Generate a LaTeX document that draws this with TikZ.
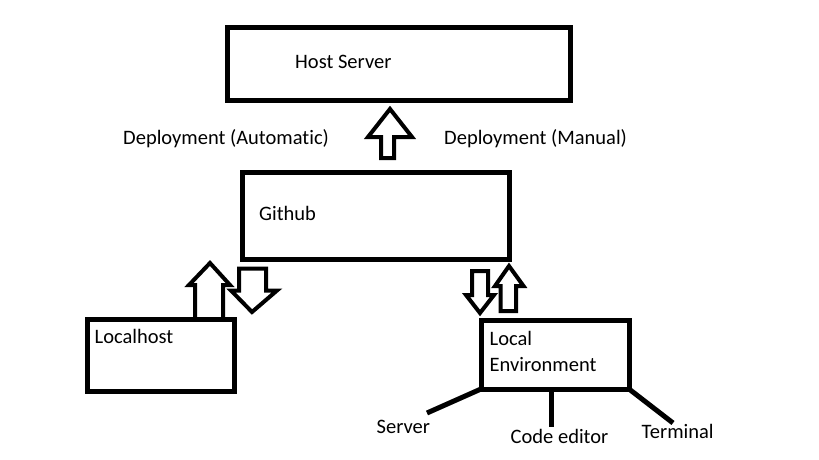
\documentclass[tikz,border=0pt]{standalone}
\usepackage{fontspec}
\setmainfont{Carlito}[Ligatures=NoCommon]

\begin{document}
\begin{tikzpicture}[x=1pt,y=-1pt,
    box/.style={draw, line width=5pt, inner sep=0pt, outer sep=0pt},
    label/.style={anchor=base west, inner sep=0pt, font=\fontsize{20.5}{26}\selectfont},
    hollow/.style={draw, line width=4pt, line join=miter},
    stroke/.style={line width=5pt}]

  % Fix the page to the size of the drawing
  \useasboundingbox[fill=white] (0,0) rectangle (819,460);

  % Draw the four boxes
  \node[box, minimum width=343pt, minimum height=73pt] (host) at (399,64) {};
  \node[box, minimum width=266.5pt, minimum height=87pt] (github) at (375.75,215.5) {};
  \node[box, minimum width=146.5pt, minimum height=72pt] (localhost) at (160.75,355) {};
  \node[box, minimum width=148pt, minimum height=69pt] (localenv) at (555,354.5) {};

  % Texts inside the boxes
  \node[label] (hosttext) at (295,68) {Host Server};
  \node[label] (githubtext) at (259,220) {Github};
  \node[label] (localhosttext) at (94.5,343.5) {Localhost};
  \node[label, align=left, anchor=west] (localenvtext) at (489.5,351) {Local\\Environment};

  % Deployment labels on both sides of the up arrow
  \node[label] (auto) at (123,144) {Deployment (Automatic)};
  \node[label] (manual) at (444,144) {Deployment (Manual)};

  % Up arrow from Github to the host server
  \draw[hollow] (381,158) -- (381,137) -- (368,137) -- (390,109)
    -- (412,137) -- (394,137) -- (394,158) -- cycle;

  % Localhost pushes up, Github pulls down
  \draw[hollow] (195,319) -- (195,285) -- (189,285) -- (210,263)
    -- (230,285) -- (223,285) -- (223,319);
  \draw[hollow] (239,268.5) -- (239,290.5) -- (231,290.5) -- (252,312)
    -- (277,290.5) -- (266,290.5) -- (266,268.5) -- cycle;

  % Local environment pulls down, pushes up
  \draw[hollow] (472,271) -- (472,295) -- (466,295) -- (480,313)
    -- (494,295) -- (488,295) -- (488,271) -- cycle;
  \draw[hollow] (500.5,311) -- (500.5,286) -- (495,286) -- (509,266)
    -- (523.5,286) -- (516,286) -- (516,311) -- cycle;

  % Tools hanging off the local environment
  \coordinate (srvend) at (427,413);
  \coordinate (codeend) at (551,427);
  \coordinate (termend) at (673,423);
  \draw[stroke] (localenv.south west) -- (srvend);
  \draw[stroke] (localenv.south west -| codeend) -- (codeend);
  \draw[stroke] (localenv.south east) -- (termend);

  \node[label] (server) at (376.5,433) {Server};
  \node[label] (codeeditor) at (510.5,443) {Code editor};
  \node[label] (terminal) at (641.5,438.5) {Terminal};

\end{tikzpicture}
\end{document}
